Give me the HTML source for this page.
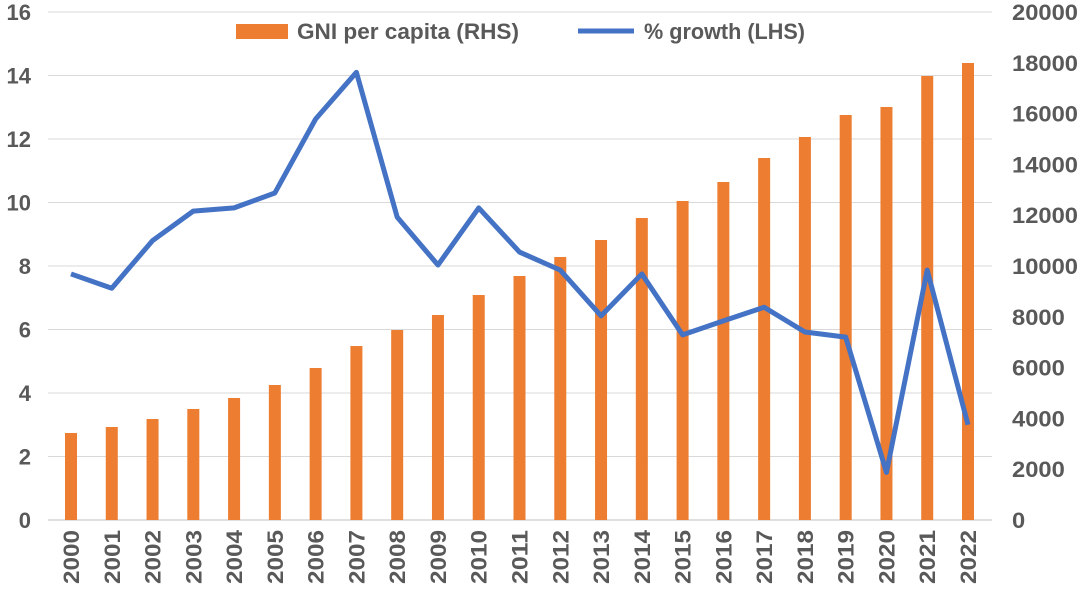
<!DOCTYPE html>
<html><head><meta charset="utf-8"><style>
body{margin:0;background:#fff;}
svg text{font-family:"Liberation Sans",sans-serif;font-weight:bold;fill:#595959;font-size:22px;}
</style></head><body>
<svg width="1080" height="592" id="chart"></svg>
<script>
const years=["2000","2001","2002","2003","2004","2005","2006","2007","2008","2009","2010","2011","2012","2013","2014","2015","2016","2017","2018","2019","2020","2021","2022"];
const gni=[3425,3661,3976,4370,4803,5315,5984,6850,7480,8071,8858,9606,10354,11024,11890,12559,13307,14252,15079,15945,16260,17480,17992];
const growth=[7.75,7.3,8.8,9.73,9.83,10.3,12.63,14.1,9.54,8.03,9.83,8.44,7.87,6.43,7.75,5.83,6.27,6.7,5.92,5.76,1.5,7.87,3.0];
const leftTicks=[0,2,4,6,8,10,12,14,16];
const rightTicks=[0,2000,4000,6000,8000,10000,12000,14000,16000,18000,20000];
const svg=document.getElementById('chart');
const NS='http://www.w3.org/2000/svg';
const y0=520,yTop=12;
const yL=v=>y0-(v/16)*(y0-yTop);
const yR=v=>y0-(v/20000)*(y0-yTop);
const xS=i=>71+i*(968-71)/(years.length-1);
function mk(t,a){const e=document.createElementNS(NS,t);for(const k in a)e.setAttribute(k,a[k]);svg.appendChild(e);return e;}
leftTicks.forEach(v=>{
 const g=mk('line',{x1:48,x2:992,y1:yL(v),y2:yL(v),stroke:v===0?'#bfbfbf':'#d9d9d9','stroke-width':1});
 
 
 const t=mk('text',{x:31,y:yL(v)+8,'text-anchor':'end'});t.textContent=v;
 
 
});
rightTicks.forEach(v=>{
 const t=mk('text',{x:1012,y:yR(v)+8,'text-anchor':'start',textLength:String(v).length*13.2,lengthAdjust:'spacingAndGlyphs'});t.textContent=v;
 
 
});
gni.forEach((v,i)=>{
 const r=mk('rect',{x:xS(i)-6,y:yR(v),width:12,height:y0-yR(v),fill:'#ed7d31'});
 
 
});
const pl=mk('polyline',{points:growth.map((v,i)=>xS(i)+','+yL(v)).join(' '),fill:'none',stroke:'#4472c4','stroke-width':5,'stroke-linejoin':'round'});


years.forEach((y,i)=>{
 const t=mk('text',{transform:`translate(${xS(i)+8},530) rotate(-90)`,'text-anchor':'end',textLength:54,lengthAdjust:'spacingAndGlyphs'});t.textContent=y;
 
 
});
const lb=mk('rect',{x:236,y:24,width:52,height:15,fill:'#ed7d31'});


const lt1=mk('text',{x:297,y:39,textLength:222,lengthAdjust:'spacingAndGlyphs'});lt1.textContent='GNI per capita (RHS)';


const ll=mk('line',{x1:578,x2:634,y1:31,y2:31,stroke:'#4472c4','stroke-width':5});


const lt2=mk('text',{x:644,y:39,textLength:161,lengthAdjust:'spacingAndGlyphs'});lt2.textContent='% growth (LHS)';


</script>
</body></html>
